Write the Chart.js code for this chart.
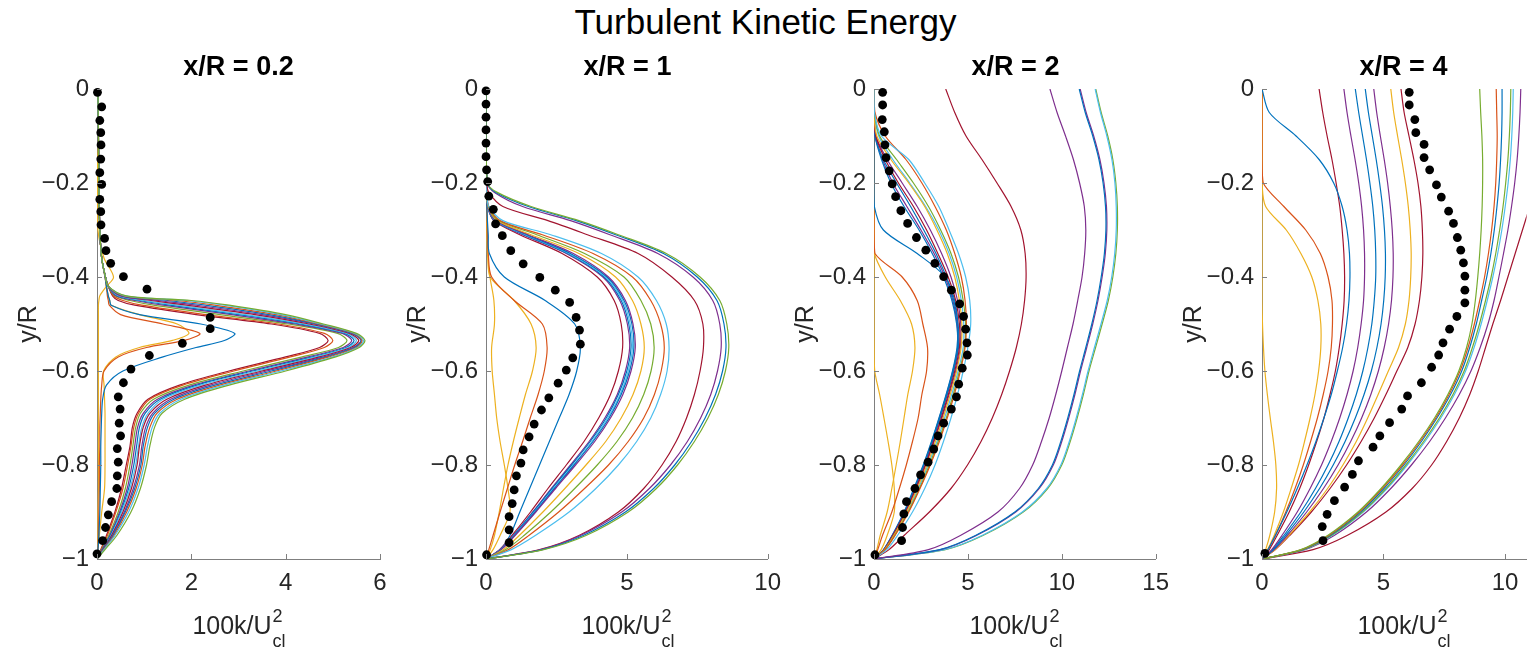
<!DOCTYPE html>
<html><head><meta charset="utf-8">
<script src="https://cdn.jsdelivr.net/npm/chart.js@4.4.1/dist/chart.umd.min.js"></script>
<style>
html,body{margin:0;padding:0;background:#fff;width:1531px;height:651px;overflow:hidden;position:relative;}
canvas{position:absolute;top:0;}
#mainTitle{position:absolute;left:0;top:4px;width:1531px;text-align:center;font-family:"Liberation Sans",Arial,sans-serif;font-size:35px;line-height:35px;color:#000;}
</style></head><body>
<div id="mainTitle">Turbulent Kinetic Energy</div>
<canvas id="c0"></canvas><canvas id="c1"></canvas><canvas id="c2"></canvas><canvas id="c3"></canvas>
<script>
// ---------- tick labels / titles ----------
const yTicks = [0,-0.2,-0.4,-0.6,-0.8,-1];
const xTicks1 = [0,2,4,6];
const xTicks2 = [0,5,10];
const xTicks3 = [0,5,10,15];
const xTicks4 = [0,5,10];
const panelTitles = ['x/R = 0.2','x/R = 1','x/R = 2','x/R = 4'];

// ---------- panel 1 (x/R = 0.2) ----------
const Y1 = [0,-0.1,-0.2,-0.3,-0.36,-0.4,-0.42,-0.44,-0.45,-0.46,-0.48,-0.5,-0.52,-0.535,-0.55,-0.57,-0.6,-0.63,-0.66,-0.69,-0.72,-0.76,-0.8,-0.85,-0.9,-0.95,-0.98,-1];
const p1a = [0.02,0.03,0.04,0.06,0.1,0.18,0.24,0.33,0.45,0.8,2.1,3.7,4.72,4.9,4.72,4.0,2.8,1.75,1.08,0.85,0.75,0.7,0.62,0.52,0.38,0.2,0.08,0];
const p1b = [0.02,0.03,0.04,0.06,0.1,0.18,0.24,0.35,0.55,0.95,2.3,3.85,4.82,5.0,4.82,4.1,2.9,1.82,1.12,0.88,0.78,0.72,0.65,0.55,0.4,0.22,0.09,0];
const p1c = [0.02,0.03,0.04,0.06,0.1,0.18,0.24,0.38,0.7,1.2,2.6,4.05,5.1,5.3,5.12,4.35,3.1,1.95,1.2,0.92,0.82,0.76,0.7,0.6,0.45,0.25,0.1,0];
const p1d = [0.02,0.03,0.04,0.06,0.1,0.18,0.24,0.4,0.8,1.4,2.85,4.2,5.2,5.4,5.22,4.48,3.22,2.05,1.28,0.98,0.86,0.8,0.74,0.64,0.48,0.27,0.11,0];
const p1e = [0.02,0.03,0.04,0.06,0.1,0.18,0.24,0.43,0.9,1.55,3.0,4.3,5.25,5.45,5.28,4.56,3.3,2.12,1.34,1.02,0.9,0.84,0.78,0.67,0.5,0.28,0.11,0];
const p1f = [0.02,0.03,0.04,0.06,0.1,0.18,0.24,0.46,1.0,1.7,3.15,4.4,5.3,5.5,5.33,4.64,3.4,2.2,1.4,1.08,0.95,0.88,0.82,0.7,0.52,0.3,0.12,0];
const p1g = [0.02,0.03,0.04,0.06,0.1,0.18,0.24,0.5,1.15,1.9,3.35,4.5,5.35,5.55,5.38,4.72,3.5,2.3,1.48,1.12,0.98,0.9,0.85,0.73,0.55,0.31,0.12,0];
const p1h = [0.02,0.03,0.04,0.06,0.1,0.18,0.24,0.52,1.3,2.1,3.5,4.6,5.4,5.6,5.43,4.8,3.6,2.4,1.56,1.18,1.03,0.95,0.9,0.77,0.58,0.33,0.13,0];
const p1i = [0.02,0.03,0.04,0.06,0.1,0.18,0.24,0.55,1.5,2.3,3.65,4.65,5.42,5.6,5.46,4.86,3.7,2.5,1.63,1.22,1.07,0.98,0.93,0.8,0.6,0.34,0.13,0];
const p1j = [0.02,0.03,0.04,0.06,0.1,0.18,0.24,0.57,1.7,2.5,3.8,4.7,5.45,5.62,5.5,4.92,3.8,2.6,1.7,1.27,1.12,1.02,0.96,0.83,0.63,0.36,0.14,0];
const p1k = [0.02,0.03,0.04,0.06,0.1,0.18,0.24,0.6,1.9,2.7,3.9,4.75,5.47,5.65,5.53,5.0,3.9,2.7,1.78,1.33,1.17,1.07,1.0,0.87,0.67,0.38,0.15,0];
const p1l = [0.02,0.03,0.04,0.06,0.1,0.18,0.24,0.62,2.0,2.8,4.0,4.8,5.5,5.68,5.56,5.06,4.0,2.8,1.86,1.38,1.22,1.12,1.05,0.92,0.72,0.42,0.17,0];
const p1m = [0.02,0.03,0.04,0.06,0.1,0.17,0.2,0.24,0.27,0.3,0.9,2.2,2.92,2.7,2.1,1.4,0.55,0.2,0.12,0.1,0.09,0.08,0.08,0.07,0.06,0.04,0.02,0];
const p1n = [0.02,0.03,0.04,0.06,0.1,0.17,0.2,0.22,0.24,0.26,0.5,1.4,2.18,1.85,1.05,0.45,0.15,0.1,0.08,0.07,0.06,0.06,0.05,0.05,0.04,0.03,0.02,0];
const p1o = [0.02,0.03,0.04,0.06,0.1,0.17,0.2,0.24,0.27,0.3,0.9,1.7,1.95,1.6,0.9,0.4,0.14,0.15,0.16,0.17,0.17,0.17,0.17,0.16,0.1,0.05,0.02,0];
const p1p = [0,0.01,0.01,0.02,0.15,0.35,0.2,0.06,0.04,0.03,0.03,0.03,0.03,0.03,0.03,0.03,0.03,0.03,0.03,0.03,0.03,0.03,0.03,0.03,0.02,0.02,0.01,0];
const dot1X = [0.01,0.10,0.06,0.08,0.085,0.08,0.06,0.10,0.06,0.08,0.085,0.16,0.19,0.29,0.56,1.06,2.40,2.40,1.81,1.11,0.72,0.56,0.45,0.49,0.47,0.50,0.43,0.45,0.43,0.42,0.31,0.24,0.18,0.12,0.0];
const dot1Y = [-0.007,-0.038,-0.067,-0.093,-0.119,-0.149,-0.178,-0.203,-0.235,-0.261,-0.289,-0.318,-0.344,-0.371,-0.399,-0.426,-0.486,-0.510,-0.541,-0.567,-0.596,-0.625,-0.655,-0.681,-0.711,-0.738,-0.765,-0.794,-0.823,-0.850,-0.878,-0.906,-0.933,-0.961,-0.989];

// ---------- panel 2 (x/R = 1) ----------
const Y2 = [0,-0.1,-0.2,-0.22,-0.25,-0.28,-0.31,-0.35,-0.4,-0.45,-0.5,-0.55,-0.6,-0.65,-0.7,-0.75,-0.8,-0.85,-0.9,-0.95,-0.98,-1];
const p2a = [0,0,0.05,0.4,1.6,3.3,4.7,6.4,7.6,8.3,8.55,8.62,8.5,8.25,7.88,7.4,6.8,6.05,5.05,3.55,2.05,0];
const p2b = [0,0,0.05,0.35,1.5,3.2,4.6,6.3,7.5,8.2,8.45,8.52,8.4,8.15,7.78,7.3,6.7,5.95,4.95,3.45,2.0,0];
const p2c = [0,0,0.05,0.3,1.3,3.0,4.4,6.1,7.35,8.05,8.3,8.35,8.22,7.98,7.62,7.15,6.55,5.8,4.82,3.35,1.95,0];
const p2d = [0,0,0.03,0.1,0.6,2.2,3.6,5.4,6.6,7.4,7.7,7.72,7.6,7.4,7.12,6.75,6.25,5.6,4.7,3.3,1.9,0];
const p2e = [0,0,0.02,0.03,0.1,0.6,2.3,4.1,5.4,6.05,6.4,6.5,6.43,6.2,5.85,5.35,4.7,3.9,2.95,1.75,0.9,0];
const p2f = [0,0,0.02,0.03,0.1,0.5,2.0,3.8,5.2,5.85,6.2,6.33,6.22,5.98,5.6,5.05,4.35,3.5,2.58,1.52,0.8,0];
const p2g = [0,0,0.02,0.03,0.08,0.45,1.8,3.5,4.9,5.5,5.85,5.97,5.86,5.6,5.2,4.65,3.95,3.15,2.3,1.35,0.7,0];
const p2h = [0,0,0.02,0.03,0.08,0.4,1.6,3.3,4.6,5.2,5.5,5.62,5.5,5.22,4.8,4.25,3.55,2.8,2.02,1.18,0.62,0];
const p2i = [0,0,0.02,0.03,0.07,0.35,1.5,3.1,4.35,4.95,5.22,5.3,5.15,4.86,4.42,3.86,3.18,2.47,1.77,1.03,0.54,0];
const p2j = [0,0,0.02,0.03,0.07,0.35,1.45,3.0,4.3,4.9,5.18,5.25,5.1,4.8,4.37,3.8,3.13,2.43,1.74,1.01,0.53,0];
const p2k = [0,0,0.02,0.03,0.07,0.33,1.4,2.95,4.25,4.85,5.12,5.2,5.05,4.76,4.32,3.76,3.1,2.4,1.72,1.0,0.52,0];
const p2l = [0,0,0.02,0.03,0.06,0.3,1.35,2.9,4.2,4.8,5.07,5.15,5.0,4.7,4.27,3.7,3.04,2.35,1.68,0.98,0.51,0];
const p2m = [0,0,0.02,0.03,0.06,0.3,1.3,2.85,4.15,4.75,5.02,5.1,4.95,4.66,4.22,3.66,3.0,2.32,1.66,0.97,0.5,0];
const p2n = [0,0,0.02,0.03,0.06,0.28,1.2,2.7,3.95,4.55,4.8,4.85,4.7,4.42,4.0,3.48,2.85,2.2,1.58,0.92,0.48,0];
const p2o = [0,0,0.01,0.02,0.03,0.05,0.08,0.12,0.65,2.1,3.15,3.35,3.22,2.95,2.6,2.25,1.9,1.55,1.2,0.85,0.5,0];
const p2p = [0,0,0.01,0.02,0.03,0.04,0.05,0.08,0.2,1.0,2.0,2.17,2.07,1.85,1.57,1.3,1.02,0.76,0.5,0.25,0.1,0];
const p2q = [0,0,0.01,0.02,0.03,0.04,0.05,0.07,0.15,1.0,1.6,1.78,1.65,1.4,1.18,0.97,0.78,0.62,0.47,0.3,0.15,0];
const p2r = [0,0,0,0,0.01,0.02,0.03,0.05,0.14,0.28,0.3,0.2,0.22,0.3,0.38,0.5,0.65,0.78,0.85,0.5,0.25,0];
const dot2X = [0,0,0,0,0,0,0.02,0.06,0.1,0.26,0.34,0.58,0.88,1.32,1.91,2.46,2.97,3.2,3.32,3.35,3.08,2.85,2.56,2.23,1.97,1.71,1.53,1.32,1.24,1.08,1.0,0.93,0.82,0.82,0.82,0.02];
const dot2Y = [-0.004,-0.032,-0.06,-0.087,-0.115,-0.144,-0.172,-0.197,-0.228,-0.256,-0.287,-0.312,-0.344,-0.372,-0.401,-0.428,-0.454,-0.486,-0.513,-0.543,-0.572,-0.598,-0.626,-0.657,-0.683,-0.713,-0.74,-0.768,-0.796,-0.823,-0.853,-0.882,-0.91,-0.938,-0.965,-0.991];

// ---------- panel 3 (x/R = 2) ----------
const Y3 = [0,-0.05,-0.1,-0.15,-0.2,-0.25,-0.3,-0.35,-0.4,-0.45,-0.5,-0.55,-0.6,-0.65,-0.7,-0.75,-0.8,-0.85,-0.9,-0.95,-0.98,-1];
const p3a = [0,0.02,0.4,1.85,2.7,3.45,4.0,4.5,4.88,5.1,5.15,5.0,4.75,4.45,4.1,3.7,3.25,2.7,2.05,1.25,0.68,0];
const p3b = [0,0.05,0.6,1.7,2.55,3.25,3.85,4.3,4.65,4.85,4.92,4.85,4.6,4.28,3.9,3.48,3.0,2.45,1.85,1.12,0.6,0];
const p3c = [0,0.02,0.3,1.2,2.1,2.9,3.55,4.1,4.5,4.75,4.88,4.82,4.55,4.22,3.85,3.42,2.95,2.42,1.82,1.1,0.59,0];
const p3d = [0,0,0.15,0.9,1.85,2.7,3.35,3.9,4.3,4.55,4.68,4.64,4.4,4.06,3.68,3.27,2.82,2.3,1.74,1.05,0.56,0];
const p3e = [0,0,0.1,0.6,1.3,2.1,2.8,3.4,3.95,4.35,4.55,4.55,4.3,3.96,3.58,3.17,2.73,2.22,1.68,1.0,0.54,0];
const p3f = [0,0,0.1,0.7,1.5,2.3,3.0,3.6,4.1,4.45,4.62,4.6,4.35,4.0,3.62,3.2,2.76,2.25,1.7,1.02,0.55,0];
const p3g = [0,0,0.08,0.5,1.2,1.95,2.65,3.3,3.85,4.25,4.48,4.5,4.25,3.9,3.52,3.12,2.68,2.18,1.65,0.99,0.53,0];
const p3h = [0,0.02,0.25,1.0,1.9,2.75,3.45,4.0,4.4,4.65,4.78,4.75,4.48,4.14,3.76,3.35,2.88,2.36,1.78,1.07,0.57,0];
const p3i = [0,0,0.05,0.4,0.9,1.6,2.4,3.1,3.7,4.15,4.4,4.45,4.2,3.86,3.48,3.08,2.65,2.15,1.63,0.98,0.52,0];
const p3j = [0,0,0.06,0.45,1.0,1.75,2.5,3.2,3.78,4.2,4.43,4.48,4.22,3.88,3.5,3.1,2.66,2.16,1.64,0.98,0.52,0];
const p3k = [0,0,0,0,0,0.02,0.5,2.3,3.8,4.3,4.45,4.42,4.18,3.84,3.46,3.06,2.62,2.12,1.6,0.96,0.51,0];
const p3l = [0,0,0,0,0,0,0,0.05,1.5,2.3,2.6,2.85,2.8,2.55,2.35,2.05,1.72,1.35,0.95,0.45,0.2,0];
const p3m = [0,0,0,0,0,0,0,0.02,0.6,1.4,2.0,2.18,2.05,1.8,1.6,1.4,1.18,0.95,0.7,0.33,0.15,0];
const p3n = [0,0,0,0,0,0,0,0,0,0,0,0.01,0.04,0.3,0.53,0.75,0.95,1.08,1.08,0.7,0.38,0];
const p3o = [3.82,4.3,4.9,5.75,6.55,7.3,7.82,8.05,8.1,8.02,7.85,7.58,7.22,6.8,6.3,5.7,4.98,4.1,2.95,1.6,0.8,0];
const p3p = [9.37,9.75,10.2,10.62,10.95,11.2,11.28,11.22,11.08,10.85,10.6,10.3,10.0,9.68,9.33,8.92,8.45,7.75,6.6,4.6,2.9,0];
const p3q = [10.93,11.25,11.65,11.98,12.2,12.33,12.35,12.27,12.1,11.88,11.6,11.28,10.95,10.65,10.32,9.95,9.5,8.75,7.5,5.4,3.5,0];
const p3r = [10.98,11.3,11.7,12.03,12.25,12.38,12.4,12.32,12.15,11.93,11.65,11.33,11.0,10.7,10.37,10.0,9.55,8.8,7.55,5.45,3.55,0];
const p3s = [11.78,12.06,12.4,12.67,12.83,12.9,12.9,12.82,12.66,12.42,12.09,11.74,11.4,11.1,10.77,10.4,9.95,9.2,7.9,5.75,3.75,0];
const p3t = [11.81,12.1,12.45,12.72,12.88,12.96,12.96,12.88,12.72,12.48,12.15,11.8,11.45,11.15,10.82,10.45,10.0,9.25,7.95,5.8,3.8,0];
const dot3X = [0.46,0.46,0.44,0.55,0.58,0.64,0.81,0.97,1.15,1.43,1.79,2.26,2.76,3.24,3.71,4.12,4.56,4.77,4.88,4.95,4.97,4.7,4.51,4.39,4.12,3.71,3.41,3.18,2.88,2.48,2.18,1.73,1.59,1.52,1.47,0.05];
const dot3Y = [-0.007,-0.034,-0.065,-0.091,-0.119,-0.146,-0.174,-0.202,-0.229,-0.259,-0.286,-0.316,-0.343,-0.371,-0.399,-0.428,-0.457,-0.484,-0.511,-0.54,-0.566,-0.594,-0.628,-0.655,-0.681,-0.711,-0.738,-0.766,-0.794,-0.821,-0.85,-0.878,-0.904,-0.933,-0.961,-0.991];

// ---------- panel 4 (x/R = 4) ----------
const Y4 = [0,-0.05,-0.1,-0.15,-0.2,-0.25,-0.3,-0.35,-0.4,-0.45,-0.5,-0.55,-0.6,-0.65,-0.7,-0.75,-0.8,-0.85,-0.9,-0.95,-0.98,-1];
const p4a = [0,0.3,1.4,2.35,2.95,3.3,3.5,3.6,3.62,3.58,3.48,3.32,3.1,2.85,2.55,2.22,1.85,1.45,1.02,0.55,0.25,0];
const p4b = [0,0,0,0,0.05,0.9,1.8,2.4,2.72,2.88,2.9,2.85,2.72,2.52,2.28,2.0,1.7,1.36,0.98,0.55,0.25,0];
const p4c = [0,0,0,0,0,0.15,1.0,1.6,2.05,2.3,2.42,2.42,2.33,2.18,1.98,1.75,1.5,1.2,0.88,0.5,0.23,0];
const p4d = [0,0,0,0,0,0,0,0,0,0,0.02,0.06,0.12,0.22,0.34,0.47,0.57,0.6,0.52,0.32,0.15,0];
const p4e = [2.35,2.5,2.68,2.88,3.05,3.2,3.3,3.37,3.4,3.38,3.3,3.18,3.02,2.8,2.55,2.25,1.92,1.55,1.12,0.62,0.3,0];
const p4f = [3.37,3.5,3.66,3.83,3.98,4.1,4.18,4.22,4.22,4.18,4.08,3.94,3.75,3.5,3.2,2.85,2.45,1.98,1.45,0.82,0.4,0];
const p4g = [3.84,3.98,4.14,4.3,4.44,4.56,4.64,4.68,4.68,4.62,4.52,4.36,4.15,3.88,3.55,3.17,2.72,2.2,1.6,0.9,0.44,0];
const p4h = [4.25,4.38,4.54,4.7,4.84,4.96,5.04,5.08,5.07,5.01,4.9,4.73,4.5,4.2,3.84,3.42,2.93,2.37,1.72,0.97,0.47,0];
const p4i = [4.6,4.72,4.87,5.03,5.17,5.28,5.36,5.4,5.39,5.33,5.21,5.03,4.79,4.48,4.1,3.65,3.13,2.53,1.84,1.04,0.5,0];
const p4j = [5.3,5.42,5.58,5.75,5.9,6.02,6.1,6.14,6.12,6.05,5.9,5.62,5.2,4.78,4.35,3.88,3.33,2.7,1.96,1.1,0.54,0];
const p4k = [5.72,5.85,6.05,6.25,6.42,6.54,6.6,6.62,6.58,6.48,6.3,6.0,5.55,5.1,4.62,4.08,3.48,2.8,2.03,1.14,0.55,0];
const p4l = [8.96,9.0,9.05,9.08,9.08,9.06,9.02,8.96,8.88,8.78,8.64,8.42,8.1,7.65,7.1,6.45,5.72,4.9,3.95,2.7,1.6,0];
const p4m = [9.64,9.66,9.68,9.66,9.62,9.55,9.45,9.32,9.16,8.96,8.74,8.48,8.15,7.7,7.15,6.5,5.78,4.95,4.0,2.75,1.63,0];
const p4n = [9.88,9.88,9.86,9.82,9.76,9.67,9.56,9.42,9.25,9.04,8.82,8.55,8.22,7.76,7.2,6.56,5.84,5.02,4.06,2.8,1.66,0];
const p4o = [10.24,10.22,10.18,10.12,10.03,9.92,9.78,9.62,9.43,9.2,8.95,8.66,8.32,7.86,7.3,6.65,5.92,5.1,4.13,2.85,1.7,0];
const p4p = [10.34,10.32,10.28,10.22,10.13,10.01,9.87,9.7,9.5,9.27,9.02,8.73,8.38,7.92,7.36,6.71,5.98,5.15,4.17,2.88,1.72,0];
const p4q = [10.65,10.62,10.57,10.5,10.4,10.27,10.12,9.94,9.75,9.55,9.3,8.98,8.6,8.12,7.55,6.9,6.15,5.3,4.3,2.97,1.77,0];
const p4r = [11.75,11.7,11.6,11.48,11.3,11.02,10.72,10.42,10.12,9.82,9.5,9.2,8.9,8.55,8.12,7.6,6.98,6.18,5.1,3.5,2.1,0];
const dot4X = [6.06,6.06,6.29,6.33,6.67,6.67,6.9,7.18,7.38,7.68,7.88,8.04,8.18,8.29,8.35,8.35,8.35,8.02,7.72,7.45,7.27,6.98,6.56,5.99,5.75,5.25,4.85,4.57,3.97,3.72,3.4,2.98,2.68,2.48,2.51,0.12];
const dot4Y = [-0.007,-0.034,-0.065,-0.093,-0.118,-0.146,-0.172,-0.204,-0.23,-0.26,-0.286,-0.316,-0.343,-0.37,-0.398,-0.428,-0.455,-0.484,-0.511,-0.54,-0.566,-0.592,-0.625,-0.653,-0.681,-0.71,-0.738,-0.762,-0.791,-0.82,-0.847,-0.876,-0.905,-0.931,-0.961,-0.988];

// ---------- styles (MATLAB default line colours) ----------
const COL = {B:'#0072BD',O:'#D95319',Y:'#EDB120',P:'#7E2F8E',G:'#77AC30',C:'#4DBEEE',R:'#A2142F'};
const AX = '#7f7f7f';
const FONT = '"Liberation Sans", Arial, Helvetica, sans-serif';

const panels = [
  {L:97, W:283, xmax:6, xt:xTicks1, Y:Y1, dots:[dot1X,dot1Y],
   curves:[[p1l,'G'],[p1k,'C'],[p1j,'O'],[p1i,'B'],[p1h,'P'],[p1g,'R'],[p1f,'C'],[p1e,'B'],[p1d,'P'],[p1c,'G'],[p1b,'O'],[p1a,'R'],[p1m,'B'],[p1n,'O'],[p1o,'Y'],[p1p,'Y']]},
  {L:486, W:283, xmax:10, xt:xTicks2, Y:Y2, dots:[dot2X,dot2Y],
   curves:[[p2a,'G'],[p2b,'B'],[p2c,'P'],[p2d,'R'],[p2e,'C'],[p2f,'O'],[p2g,'G'],[p2h,'Y'],[p2i,'P'],[p2j,'B'],[p2k,'C'],[p2l,'B'],[p2m,'P'],[p2n,'R'],[p2o,'B'],[p2p,'O'],[p2q,'Y'],[p2r,'Y']]},
  {L:874, W:283, xmax:15, xt:xTicks3, Y:Y3, dots:[dot3X,dot3Y],
   curves:[[p3a,'C'],[p3b,'O'],[p3c,'G'],[p3d,'Y'],[p3e,'R'],[p3f,'P'],[p3g,'B'],[p3h,'C'],[p3i,'B'],[p3j,'P'],[p3k,'B'],[p3l,'O'],[p3m,'Y'],[p3n,'Y'],[p3o,'R'],[p3p,'P'],[p3q,'B'],[p3r,'P'],[p3s,'C'],[p3t,'G']]},
  {L:1262, W:283, xmax:10.89, xt:xTicks4, Y:Y4, dots:[dot4X,dot4Y], last:true,
   curves:[[p4a,'B'],[p4b,'O'],[p4c,'Y'],[p4d,'Y'],[p4e,'R'],[p4f,'P'],[p4g,'B'],[p4h,'B'],[p4i,'P'],[p4j,'Y'],[p4k,'R'],[p4l,'G'],[p4m,'O'],[p4n,'B'],[p4o,'G'],[p4p,'C'],[p4q,'P'],[p4r,'R']]}
];

const fmt = v => String(Math.round(v*10)/10).replace('-', '\u2212');

const deco = {
  id: 'deco',
  afterDraw(chart, args, o) {
    const {ctx, chartArea: a, scales: {x, y}} = chart;
    ctx.save();
    ctx.strokeStyle = AX; ctx.lineWidth = 1;
    ctx.beginPath();
    x.ticks.forEach(t => { const px = Math.round(x.getPixelForValue(t.value)) + 0.5; ctx.moveTo(px, a.bottom); ctx.lineTo(px, a.bottom - 5); });
    y.ticks.forEach(t => { const py = Math.round(y.getPixelForValue(t.value)) + 0.5; ctx.moveTo(a.left, py); ctx.lineTo(a.left + 5, py); });
    ctx.stroke();
    const cx = a.left + o.fullW / 2;
    // panel title
    ctx.fillStyle = '#000';
    ctx.textAlign = 'center'; ctx.textBaseline = 'alphabetic';
    ctx.font = 'bold 27px ' + FONT;
    ctx.fillText(o.title, cx, 75);
    // x-axis title 100k/U^2_cl
    ctx.fillStyle = '#262626';
    ctx.font = '25px ' + FONT;
    const main = '100k/U';
    const wm = ctx.measureText(main).width;
    ctx.font = '18px ' + FONT;
    const ws = Math.max(ctx.measureText('2').width, ctx.measureText('cl').width);
    const x0 = cx - (wm + ws) / 2;
    ctx.textAlign = 'left';
    ctx.font = '25px ' + FONT;
    ctx.fillText(main, x0, 634);
    ctx.font = '18px ' + FONT;
    ctx.fillText('2', x0 + wm + 1, 622);
    ctx.fillText('cl', x0 + wm + 1, 647);
    // y-axis title
    ctx.translate(a.left - 68, (a.top + a.bottom) / 2);
    ctx.rotate(-Math.PI / 2);
    ctx.textAlign = 'center'; ctx.textBaseline = 'middle';
    ctx.font = '25px ' + FONT;
    ctx.fillText('y/R', 0, 0);
    ctx.restore();
  }
};

panels.forEach((p, i) => {
  const cv = document.getElementById('c' + i);
  const left = p.L - 90;
  const width = p.last ? 1531 - left : 90 + p.W + 22;
  cv.width = width; cv.height = 651;
  cv.style.left = left + 'px';
  const datasets = [{
    data: p.dots[0].map((v, k) => ({x: v, y: p.dots[1][k]})),
    backgroundColor: '#000', borderColor: '#000', borderWidth: 0,
    pointRadius: 4.4, showLine: false, clip: 10
  }];
  p.curves.forEach(([xs, c]) => datasets.push({
    data: xs.map((v, k) => ({x: v, y: p.Y[k]})),
    borderColor: COL[c], backgroundColor: COL[c], borderWidth: 1.2,
    pointRadius: 0, showLine: true, tension: 0.3, fill: false
  }));
  new Chart(cv, {
    type: 'scatter',
    data: {datasets},
    options: {
      responsive: false, animation: false, events: [],
      layout: {padding: {top: 89, left: 0, bottom: 0, right: p.last ? 0 : width - 90 - p.W}},
      plugins: {legend: {display: false}, tooltip: {enabled: false},
        deco: {title: panelTitles[i], fullW: p.W}},
      scales: {
        x: {type: 'linear', min: 0, max: p.xmax,
          afterBuildTicks: s => { s.ticks = p.xt.map(v => ({value: v})); },
          afterFit: s => { s.height = 92; },
          grid: {display: false, drawTicks: false},
          border: {display: true, color: AX, width: 1},
          ticks: {font: {size: 24, family: FONT}, color: '#262626', padding: 10, maxRotation: 0, autoSkip: false, callback: fmt}},
        y: {type: 'linear', min: -1, max: 0,
          afterBuildTicks: s => { s.ticks = yTicks.map(v => ({value: v})); },
          afterFit: s => { s.width = 90; },
          grid: {display: false, drawTicks: false},
          border: {display: true, color: AX, width: 1},
          ticks: {font: {size: 24, family: FONT}, color: '#262626', padding: 8, autoSkip: false, callback: fmt}}
      }
    },
    plugins: [deco]
  });
});
</script>
</body></html>
